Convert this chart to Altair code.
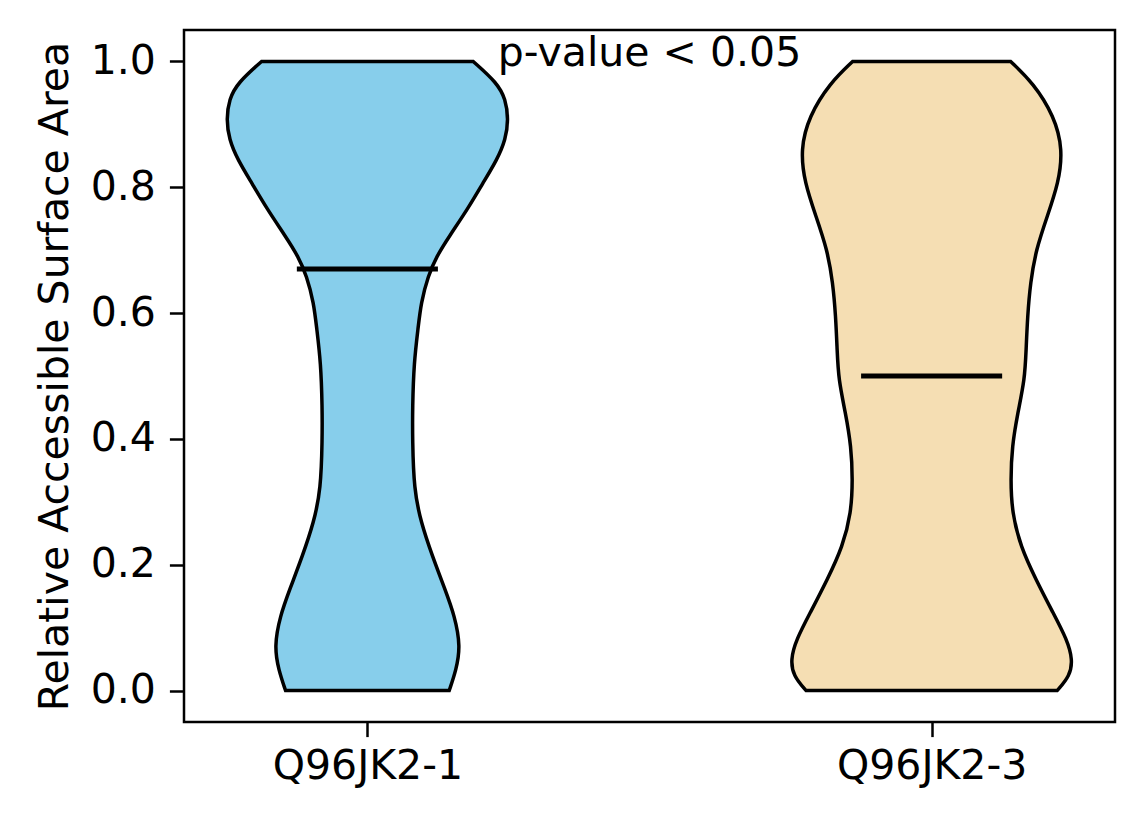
import altair as alt
import pandas as pd

# ---- data ----
categories = ["Q96JK2-1", "Q96JK2-3"]
positions = [1, 2]
colors = ["#87CEEB", "#F5DEB3"]
medians = [0.67, 0.50]

# violin profiles: y value and relative density (1 = widest)
v1_y = [0.0, 0.033, 0.070, 0.118, 0.161, 0.214, 0.267, 0.320, 0.399, 0.45, 0.521,
        0.577, 0.616, 0.659, 0.690, 0.722, 0.765, 0.807, 0.844, 0.876, 0.908,
        0.94, 0.966, 1.0]
v1_density = [0.58, 0.63, 0.66, 0.62, 0.55, 0.46, 0.38, 0.33, 0.32, 0.32, 0.33,
              0.36, 0.38, 0.43, 0.49, 0.58, 0.71, 0.82, 0.92, 0.98, 1.0,
              0.98, 0.92, 0.75]

v2_y = [0.0, 0.023, 0.049, 0.081, 0.124, 0.176, 0.229, 0.283, 0.335, 0.388, 0.441,
        0.494, 0.542, 0.595, 0.648, 0.701, 0.754, 0.807, 0.860, 0.913, 0.966, 1.0]
v2_density = [0.89, 0.98, 1.0, 0.96, 0.86, 0.74, 0.63, 0.57, 0.56, 0.57, 0.61,
              0.66, 0.67, 0.68, 0.70, 0.74, 0.82, 0.90, 0.93, 0.87, 0.72, 0.56]

annotation_text = ["p-value < 0.05"]
annotation_x = [1.5]
annotation_y = [0.992]

y_ticks = [0.0, 0.2, 0.4, 0.6, 0.8, 1.0]
y_title = "Relative Accessible Surface Area"

violin_half_width = 0.25
median_half_width = 0.125

# ---- build tables ----
rows = []
for cat, pos, ys, ds in zip(categories, positions, [v1_y, v2_y], [v1_density, v2_density]):
    for y, d in zip(ys, ds):
        rows.append({"cat": cat, "y": y,
                     "x": pos - violin_half_width * d,
                     "x2": pos + violin_half_width * d})
violins = pd.DataFrame(rows)

med = pd.DataFrame({
    "cat": categories,
    "median": medians,
    "xl": [p - median_half_width for p in positions],
    "xr": [p + median_half_width for p in positions],
})

ann = pd.DataFrame({"text": annotation_text, "x": annotation_x, "y": annotation_y})

label_expr = " : ".join(
    [f"datum.value == {p} ? '{c}'" for p, c in zip(positions[:-1], categories[:-1])]
    + [f"'{categories[-1]}'"]
)

FONT = "DejaVu Sans"
FS = 41

xscale = alt.Scale(domain=[0.675, 2.325], nice=False, zero=False)
yscale = alt.Scale(domain=[-0.05, 1.05], nice=False, zero=False)

xaxis = alt.Axis(values=positions, labelExpr=label_expr, title=None, grid=False,
                 domain=False, tickSize=14.6, tickWidth=2.5, tickColor="black",
                 labelFontSize=FS, labelFont=FONT, labelColor="black", labelPadding=10,
                 labelLimit=0)
yaxis = alt.Axis(values=y_ticks, format=".1f", title=y_title, grid=False,
                 domain=False, tickSize=14.6, tickWidth=2.5, tickColor="black",
                 labelFontSize=FS, labelFont=FONT, labelColor="black", labelPadding=14,
                 titleFontSize=FS, titleFont=FONT, titleFontWeight="normal",
                 titleColor="black", titlePadding=14, titleLimit=0)

area = alt.Chart(violins).mark_area(
    orient="horizontal", interpolate="basis", stroke="black",
    strokeWidth=3.5, opacity=1, fillOpacity=1
).encode(
    y=alt.Y("y:Q", scale=yscale, axis=yaxis),
    x=alt.X("x:Q", scale=xscale, axis=xaxis, stack=None),
    x2="x2:Q",
    color=alt.Color("cat:N", scale=alt.Scale(domain=categories, range=colors), legend=None),
)

rule = alt.Chart(med).mark_rule(color="black", strokeWidth=5).encode(
    x=alt.X("xl:Q", scale=xscale),
    x2="xr:Q",
    y=alt.Y("median:Q", scale=yscale),
)

text = alt.Chart(ann).mark_text(
    fontSize=FS, font=FONT, align="center", baseline="alphabetic", color="black"
).encode(
    x=alt.X("x:Q", scale=xscale),
    y=alt.Y("y:Q", scale=yscale),
    text="text:N",
)

chart = alt.layer(area, rule, text).properties(
    width=931, height=692,
    autosize=alt.AutoSizeParams(type="none"),
    padding={"left": 176, "top": 22, "right": 20, "bottom": 90},
).configure(
    background="white",
    view=alt.ViewConfig(stroke="black", strokeWidth=2.5),
)

chart.save("out.html", embed_options={"renderer": "svg", "actions": False})
